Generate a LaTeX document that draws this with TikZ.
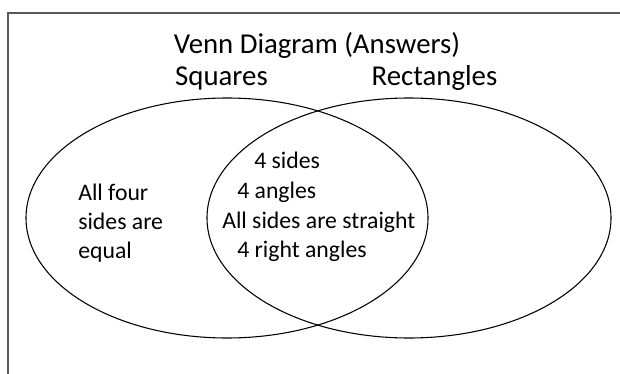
\documentclass[tikz,border=0pt]{standalone}
\usepackage{fontspec}
\setmainfont{Carlito}
\begin{document}
\begin{tikzpicture}[x=0.75pt,y=-0.75pt,
  framestyle/.style={draw={rgb,255:red,89;green,89;blue,89}, line width=1pt},
  setline/.style={draw=black, line width=0.8pt},
  bodytext/.style={anchor=base west, inner sep=0pt, font=\fontsize{17.8}{21}\selectfont},
  headtext/.style={anchor=base, inner sep=0pt, font=\fontsize{21.6}{26}\selectfont}]
\useasboundingbox (0,0) rectangle (620,374);
\draw[framestyle] (8,374) -- (8,13) -- (620,13);
\draw[setline] (227,218) ellipse [x radius=150.75pt, y radius=90pt];
\draw[setline] (409,218) ellipse [x radius=151.5pt, y radius=90pt];
\node[headtext] (title) at (317,54) {Venn Diagram (Answers)};
\node[headtext] (sq) at (221.5,86) {Squares};
\node[headtext] (rect) at (434.5,86) {Rectangles};
\node[bodytext] (l1) at (78,200) {All four};
\node[bodytext] (l2) at (78,229) {sides are};
\node[bodytext] (l3) at (78,258) {equal};
\node[bodytext] (m1) at (254,168) {4 sides};
\node[bodytext] (m2) at (237,198) {4 angles};
\node[bodytext] (m3) at (222,228) {All sides are straight};
\node[bodytext] (m4) at (237,257) {4 right angles};
\end{tikzpicture}
\end{document}
